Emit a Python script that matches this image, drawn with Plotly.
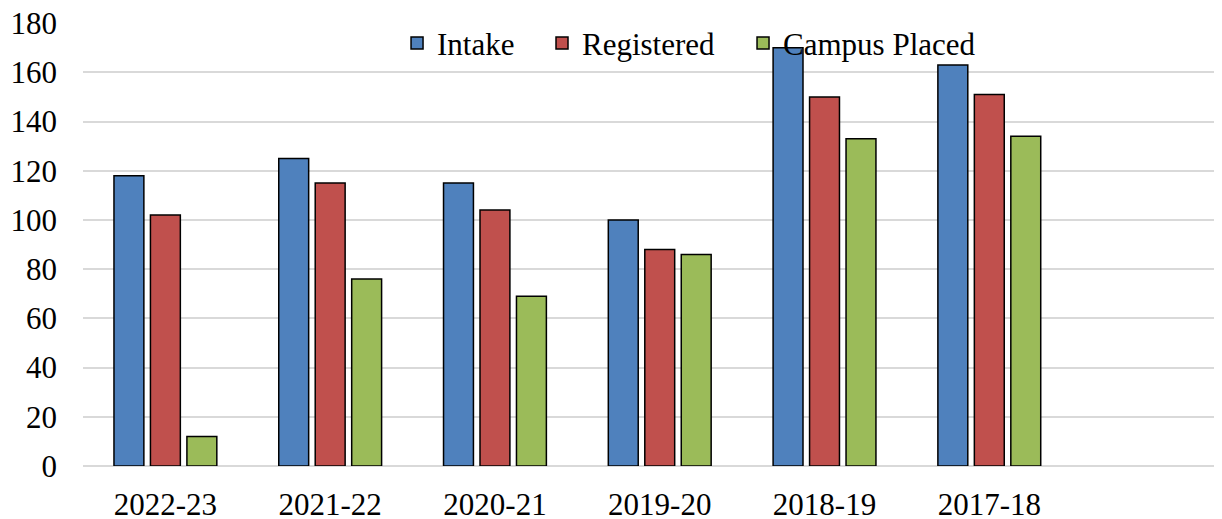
import plotly.graph_objects as go

categories = ["2022-23", "2021-22", "2020-21", "2019-20", "2018-19", "2017-18"]
intake = [118, 125, 115, 100, 170, 163]
registered = [102, 115, 104, 88, 150, 151]
campus_placed = [12, 76, 69, 86, 133, 134]
y_ticks = [0, 20, 40, 60, 80, 100, 120, 140, 160, 180]

FONT = "Liberation Serif"
FS = 31

series = [("Intake", intake, "#4F81BD", "legend", 0.2762),
          ("Registered", registered, "#C0504D", "legend2", 0.4037),
          ("Campus Placed", campus_placed, "#9BBB59", "legend3", 0.5805)]

fig = go.Figure()
legends = {}
for name, vals, col, lg, lx in series:
    fig.add_trace(go.Bar(x=categories, y=vals, name=name, legend=lg,
                         marker=dict(color=col, line=dict(color="black", width=1.5))))
    legends[lg] = dict(orientation="h", x=lx, xanchor="left", y=0.954, yanchor="middle",
                       bgcolor="rgba(0,0,0,0)", font=dict(family=FONT, size=FS),
                       itemwidth=30, borderwidth=0)

fig.update_layout(
    width=1214, height=511,
    margin=dict(l=75, r=2, t=15, b=53, autoexpand=False),
    paper_bgcolor="white", plot_bgcolor="white",
    barmode="group", bargap=0.336, bargroupgap=0.18,
    font=dict(family=FONT, size=FS, color="black"),
    showlegend=True,
    **legends,
)
fig.update_xaxes(type="category", range=[-0.5, 6.4], showgrid=False, showline=False,
                 zeroline=False, ticks="", ticklabelstandoff=17, automargin=False,
                 ticklabeloverflow="allow",
                 tickfont=dict(family=FONT, size=FS, color="black"))
fig.update_yaxes(range=[0, 180.05], tickvals=y_ticks, showgrid=True, gridcolor="#D9D9D9",
                 gridwidth=1.5, zeroline=True, zerolinecolor="#D9D9D9", zerolinewidth=1.5,
                 showline=False, ticks="", ticklabelstandoff=25, automargin=False,
                 ticklabeloverflow="allow",
                 tickfont=dict(family=FONT, size=FS, color="black"))

fig.write_html("out.html")
